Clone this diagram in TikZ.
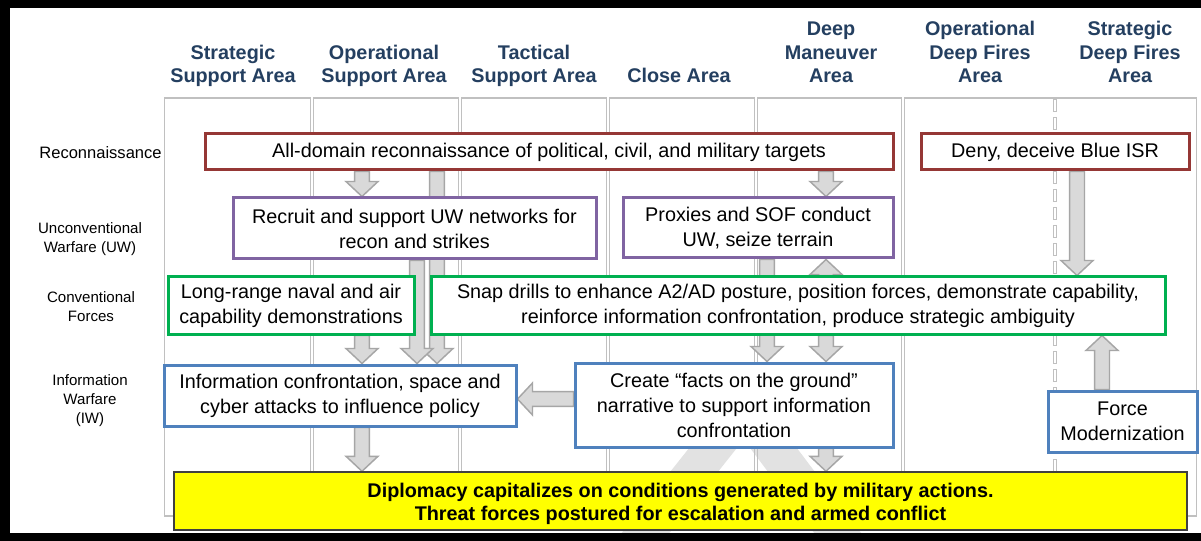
\documentclass[tikz,border=0pt]{standalone}
\usepackage{fontspec}
\setmainfont{Liberation Sans}
\usetikzlibrary{calc}
\definecolor{hdr}{HTML}{243F60}
\definecolor{rbord}{HTML}{953735}
\definecolor{pbord}{HTML}{8064A2}
\definecolor{gbord}{HTML}{00B050}
\definecolor{bbord}{HTML}{4F81BD}
\definecolor{afill}{HTML}{D9D9D9}
\definecolor{aline}{HTML}{A6A6A6}
\definecolor{colline}{HTML}{C0C0C0}
\definecolor{bgv}{HTML}{E2E2E2}
\definecolor{ybox}{HTML}{FFFF00}
\pgfdeclarelayer{back}
\pgfdeclarelayer{mid}
\pgfsetlayers{back,mid,main}
\tikzset{
  every node/.style={inner sep=0pt, align=center},
  boxt/.style={font=\fontsize{14.85}{18.75}\selectfont, fill=white, line width=2.25pt},
  redbox/.style={boxt, draw=rbord},
  purbox/.style={boxt, draw=pbord},
  grnbox/.style={boxt, draw=gbord},
  blubox/.style={boxt, draw=bbord},
  yelbox/.style={fill=ybox, draw=black!75, line width=1.1pt},
  yeltext/.style={font=\bfseries\fontsize{14.85}{17.25}\selectfont},
  hdrt/.style={font=\bfseries\fontsize{14.85}{17.6}\selectfont, text=hdr, anchor=south, text depth=0pt},
  lbl/.style={font=\fontsize{11.3}{14.25}\selectfont, anchor=south, text depth=0pt},
  colbox/.style={draw=colline, line width=1.1pt},
  barrow/.style={fill=afill, draw=aline, line width=1.1pt, line join=miter},
}
% block arrow from #1 to #2
\newcommand\blockarrow[2]{%
  \path[barrow] let \p1=#1, \p2=#2,
      \n1={veclen(\x2-\x1,\y2-\y1)},
      \n2={atan2(\y2-\y1,\x2-\x1)} in
    {[shift={(\p1)}, rotate=\n2]
      (0pt,-5.6pt) -- ({\n1-11.25pt},-5.6pt) -- ({\n1-11.25pt},-12pt) -- (\n1,0pt)
      -- ({\n1-11.25pt},12pt) -- ({\n1-11.25pt},5.6pt) -- (0pt,5.6pt) -- cycle};
}
\begin{document}
\begin{tikzpicture}[x=0.75pt,y=-0.75pt]
\useasboundingbox (0,0) rectangle (1201,541);

% ---------- boxes ----------
\node[redbox, minimum width=516pt, minimum height=27pt] (recon) at (549,152)
  {All-domain reconnaissance of political, civil, and military targets};
\node[redbox, minimum width=201pt, minimum height=27pt] (deny) at (1055,152)
  {Deny, deceive Blue ISR};
\node[purbox, minimum width=272.25pt, minimum height=45.75pt] (recruit) at (414.5,228.5)
  {Recruit and support UW networks for\\recon and strikes};
\node[purbox, minimum width=202.5pt, minimum height=45pt] (proxies) at (758,228)
  {Proxies and SOF conduct\\UW, seize terrain};
\node[grnbox, minimum width=184.5pt, minimum height=42.75pt] (longr) at (291,305.5)
  {Long-range naval and air\\capability demonstrations};
\node[grnbox, minimum width=550.5pt, minimum height=42.75pt] (snap) at (798,305.5)
  {Snap drills to enhance A2/AD posture, position forces, demonstrate capability,\\reinforce information confrontation, produce strategic ambiguity};
\node[blubox, minimum width=264pt, minimum height=45.75pt] (info) at (340,395.5)
  {Information confrontation, space and\\cyber attacks to influence policy};
\node[blubox, minimum width=238.5pt, minimum height=63pt] (facts) at (734,405)
  {Create “facts on the ground”\\narrative to support information\\confrontation};
\node[blubox, minimum width=111.75pt, minimum height=45.75pt] (force) at (1122.5,421.5)
  {Force\\Modernization};
\node[yelbox, minimum width=759.75pt, minimum height=43.5pt] (diplo) at (680.5,501) {};
\node[yeltext] (diplotext) at (680.5,504)
  {Diplomacy capitalizes on conditions generated by military actions.\\Threat forces postured for escalation and armed conflict};

% ---------- headers ----------
\node[hdrt] (h1) at (233,83) {Strategic\\Support Area};
\node[hdrt] (h2) at (384,83) {Operational\\Support Area};
\node[hdrt] (h3) at (534,83) {Tactical\\Support Area};
\node[hdrt] (h4) at (679,83) {Close Area};
\node[hdrt] (h5) at (831,83) {Deep\\Maneuver\\Area};
\node[hdrt] (h6) at (980,83) {Operational\\Deep Fires\\Area};
\node[hdrt] (h7) at (1130,83) {Strategic\\Deep Fires\\Area};

% ---------- row labels ----------
\node[lbl, font=\fontsize{12.4}{14.25}\selectfont] (l1) at (100.5,158.5) {Reconnaissance};
\node[lbl] (l2) at (90,252.5) {Unconventional\\Warfare (UW)};
\node[lbl] (l3) at (91,322) {Conventional\\Forces};
\node[lbl] (l4) at (90,423.5) {Information\\Warfare\\(IW)};

% ---------- arrow positions ----------
\coordinate (xa) at (362,0);
\coordinate (xb) at (437,0);
\coordinate (xc) at (417,0);
\coordinate (xd) at (826,0);
\coordinate (xe) at (767,0);
\coordinate (xf) at (1077,0);
\coordinate (xg) at (1102,0);
\coordinate (ya) at (0,399);

\begin{pgfonlayer}{mid}
\blockarrow{(recon.south -| xa)}{(recruit.north -| xa)}
\blockarrow{(recon.south -| xb)}{(info.north -| xb)}
\blockarrow{(recruit.south -| xc)}{(info.north -| xc)}
\blockarrow{(longr.south -| xa)}{(info.north -| xa)}
\blockarrow{(info.south -| xa)}{(diplo.north -| xa)}
\blockarrow{(facts.west |- ya)}{(info.east |- ya)}
\blockarrow{(recon.south -| xd)}{(proxies.north -| xd)}
\blockarrow{(proxies.south -| xe)}{(facts.north -| xe)}
\blockarrow{(snap.north -| xd)}{(proxies.south -| xd)}
\blockarrow{(snap.south -| xd)}{(facts.north -| xd)}
\blockarrow{(facts.south -| xd)}{(diplo.north -| xd)}
\blockarrow{(deny.south -| xf)}{(snap.north -| xf)}
\blockarrow{(force.north -| xg)}{(snap.south -| xg)}
\end{pgfonlayer}

\begin{pgfonlayer}{back}
\fill[black] (0,0) rectangle (1201,541);
\fill[white] (10,8) rectangle (1201,532.5);
\begin{scope}
  \clip (10,8) rectangle (1201,532.5);
  \draw[bgv, line width=28pt] (624,560) -- (744,409) -- (858,560);
\end{scope}
\foreach \a/\b in {163/312,312/460,460/608,608/756,756/903,903/1198}
  \draw[colbox] (\a+1.5,98) rectangle (\b-1.5,516);
\draw[colline, line width=2.6pt, dash pattern=on 9.75pt off 3.75pt] (1055,99) -- (1055,515);
\draw[white, line width=0.9pt, dash pattern=on 8.25pt off 5.25pt, dash phase=12.75pt] (1055,99) -- (1055,515);
\end{pgfonlayer}
\end{tikzpicture}
\end{document}
